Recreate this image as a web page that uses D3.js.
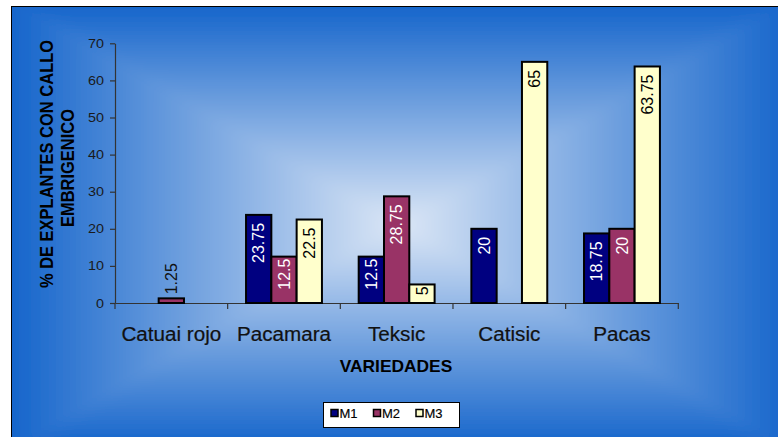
<!DOCTYPE html>
<html>
<head>
<meta charset="utf-8">
<script src="https://cdn.jsdelivr.net/npm/d3@7/dist/d3.min.js"></script>
<style>
  html, body { margin: 0; padding: 0; background: #ffffff; }
  svg { display: block; }
  text { font-family: "Liberation Sans", Arial, sans-serif; }
</style>
</head>
<body>
<svg id="chart" width="778" height="437"></svg>
<script>
// Varieties on the x axis
const categories = ["Catuai rojo", "Pacamara", "Teksic", "Catisic", "Pacas"];
// Series (culture media)
const seriesNames = ["M1", "M2", "M3"];
const seriesColors = ["#000080", "#993366", "#FFFFCC"];
const labelColors = ["#ffffff", "#ffffff", "#000000"];
// % of explants with embryogenic callus (null = no value)
const m1Values = [null, 23.75, 12.5, 20, 18.75];
const m2Values = [1.25, 12.5, 28.75, null, 20];
const m3Values = [null, 22.5, 5, 65, 63.75];
const yTicks = [0, 10, 20, 30, 40, 50, 60, 70];

const seriesValues = [m1Values, m2Values, m3Values];

const svg = d3.select("#chart");

// ---- chart area background: rectangular "from centre" gradient ----
const area = { x0: 11, y0: 6, x1: 790, y1: 445 };
const cx = 400, cy = 225;
const edgeColor = "#1565cb", centreColor = "#dce7f6";
const defs = svg.append("defs");
function grad(id, x1, y1, x2, y2) {
  const g = defs.append("linearGradient").attr("id", id)
    .attr("gradientUnits", "userSpaceOnUse")
    .attr("x1", x1).attr("y1", y1).attr("x2", x2).attr("y2", y2);
  g.append("stop").attr("offset", 0).attr("stop-color", edgeColor);
  g.append("stop").attr("offset", 1).attr("stop-color", centreColor);
}
grad("gTop", 0, area.y0, 0, cy);
grad("gBottom", 0, area.y1, 0, cy);
grad("gLeft", area.x0, 0, cx, 0);
grad("gRight", area.x1, 0, cx, 0);

defs.append("clipPath").attr("id", "areaClip")
  .append("rect")
  .attr("x", area.x0).attr("y", area.y0)
  .attr("width", area.x1 - area.x0).attr("height", area.y1 - area.y0);
defs.append("filter").attr("id", "soften")
  .attr("x", -0.1).attr("y", -0.1).attr("width", 1.2).attr("height", 1.2)
  .append("feGaussianBlur").attr("stdDeviation", 7);

// triangles drawn a little past the area edge so the softening keeps the edges blue
const m = 30;
const ex0 = area.x0 - m, ey0 = area.y0 - m, ex1 = area.x1 + m, ey1 = area.y1 + m;
const bgClip = svg.append("g").attr("clip-path", "url(#areaClip)");
const bg = bgClip.append("g").attr("filter", "url(#soften)");
const tris = [
  ["gTop", [[ex0, ey0], [ex1, ey0], [cx, cy]]],
  ["gBottom", [[ex0, ey1], [ex1, ey1], [cx, cy]]],
  ["gLeft", [[ex0, ey0], [ex0, ey1], [cx, cy]]],
  ["gRight", [[ex1, ey0], [ex1, ey1], [cx, cy]]]
];
tris.forEach(([id, pts]) => {
  bg.append("polygon")
    .attr("points", pts.map(p => p.join(",")).join(" "))
    .attr("fill", `url(#${id})`)
    .attr("stroke", `url(#${id})`)
    .attr("stroke-width", 1);
});
svg.append("rect")
  .attr("x", area.x0 + 0.5).attr("y", area.y0 + 0.5)
  .attr("width", area.x1 - area.x0).attr("height", area.y1 - area.y0)
  .attr("fill", "none").attr("stroke", "#000").attr("stroke-width", 1);

// ---- scales ----
const plot = { left: 115, right: 678.3, top: 43.3, bottom: 303 };
const x = d3.scaleBand().domain(categories).range([plot.left, plot.right]).padding(0);
const xs = d3.scaleBand().domain(seriesNames).range([0, x.bandwidth()])
  .paddingInner(0).paddingOuter(0.726);
const y = d3.scaleLinear().domain([0, 70]).range([plot.bottom, plot.top]);

const axisColor = "#333333";

// ---- y axis ----
const yAxis = svg.append("g")
  .attr("transform", `translate(${plot.left},0)`)
  .call(d3.axisLeft(y).tickValues(yTicks).tickSize(5).tickSizeOuter(0).tickPadding(6));
yAxis.select(".domain").attr("stroke", axisColor).attr("stroke-width", 1.2);
yAxis.selectAll(".tick line").attr("stroke", axisColor).attr("stroke-width", 1.2);
yAxis.selectAll(".tick text")
  .attr("fill", "#1a1a1a")
  .attr("font-size", 12.5)
  .attr("font-family", "Liberation Sans, Arial, sans-serif")
  .attr("x", -11 / 1.15)
  .attr("transform", "scale(1.15,1)");

// ---- x axis: line with ticks at category boundaries ----
const xAxis = svg.append("g")
  .attr("transform", `translate(0,${plot.bottom})`)
  .call(d3.axisBottom(x).tickSize(0).tickFormat(""));
xAxis.select(".domain").attr("stroke", axisColor).attr("stroke-width", 1.2);
xAxis.selectAll(".tick").remove();
const bounds = categories.map(c => x(c)).concat([x(categories[categories.length - 1]) + x.bandwidth()]);
xAxis.selectAll("line.bound").data(bounds).enter().append("line")
  .attr("class", "bound")
  .attr("x1", d => d).attr("x2", d => d)
  .attr("y1", 0).attr("y2", 6)
  .attr("stroke", axisColor).attr("stroke-width", 1.2);

// category labels
svg.append("g").selectAll("text").data(categories).enter().append("text")
  .attr("transform", d => `translate(${x(d) + x.bandwidth() / 2},341) scale(1.06,1)`)
  .attr("text-anchor", "middle")
  .attr("font-size", 19.5)
  .attr("fill", "#111")
  .attr("stroke", "#111").attr("stroke-width", 0.2)
  .text(d => d);

// ---- bars ----
const barData = [];
categories.forEach((c, i) => {
  seriesNames.forEach((s, j) => {
    const v = seriesValues[j][i];
    if (v !== null) barData.push({ cat: c, s, j, v });
  });
});

const bars = svg.append("g");
bars.selectAll("rect").data(barData).enter().append("rect")
  .attr("x", d => x(d.cat) + xs(d.s))
  .attr("y", d => y(d.v))
  .attr("width", xs.bandwidth())
  .attr("height", d => y(0) - y(d.v))
  .attr("fill", d => seriesColors[d.j])
  .attr("stroke", "#000")
  .attr("stroke-width", 2);

// rotated value labels
const labelSize = 16;
const labels = svg.append("g");
barData.forEach(d => {
  const bx = x(d.cat) + xs(d.s) + xs.bandwidth() / 2;
  const top = y(d.v);
  const barH = y(0) - top;
  const txt = String(d.v);
  const tl = txt.length * 0.52 * labelSize;
  const inside = barH > tl + 3;
  const t = labels.append("text")
    .attr("font-size", labelSize)
    .attr("dy", "0.36em")
    .text(txt);
  if (inside) {
    const pad = barH - tl < 16 ? 2 : 8;
    t.attr("transform", `translate(${bx},${top + pad}) rotate(-90)`)
      .attr("text-anchor", "end")
      .attr("fill", labelColors[d.j]);
  } else {
    t.attr("transform", `translate(${bx},${top - 4}) rotate(-90)`)
      .attr("text-anchor", "start")
      .attr("fill", "#111");
  }
});

// ---- axis titles ----
const yTitle = svg.append("g").attr("font-weight", "bold").attr("font-size", 16.5).attr("fill", "#000");
yTitle.append("text")
  .attr("transform", "translate(52.5,164) scale(1.1,1) rotate(-90)")
  .attr("text-anchor", "middle")
  .text("% DE EXPLANTES CON CALLO");
yTitle.append("text")
  .attr("transform", "translate(73.5,168) scale(1.1,1) rotate(-90)")
  .attr("text-anchor", "middle")
  .text("EMBRIGENICO");

svg.append("text")
  .attr("transform", "translate(396,371.5) scale(1.1,1)")
  .attr("text-anchor", "middle")
  .attr("font-weight", "bold")
  .attr("font-size", 15.8)
  .attr("fill", "#000")
  .text("VARIEDADES");

// ---- legend ----
const legend = svg.append("g");
legend.append("rect")
  .attr("x", 323.5).attr("y", 402.5).attr("width", 136).attr("height", 25)
  .attr("fill", "#fff").attr("stroke", "#000").attr("stroke-width", 1);
const legX = d3.scalePoint().domain(seriesNames).range([331, 416]);
const items = legend.selectAll("g.item").data(seriesNames).enter().append("g")
  .attr("class", "item")
  .attr("transform", d => `translate(${legX(d)},409.5)`);
items.append("rect")
  .attr("width", 7).attr("height", 7)
  .attr("fill", (d, i) => seriesColors[i])
  .attr("stroke", "#000").attr("stroke-width", 1.5);
items.append("text")
  .attr("x", 8.5).attr("y", 8.6)
  .attr("font-size", 13)
  .attr("fill", "#000")
  .attr("stroke", "#000").attr("stroke-width", 0.15)
  .text(d => d);
</script>
</body>
</html>
